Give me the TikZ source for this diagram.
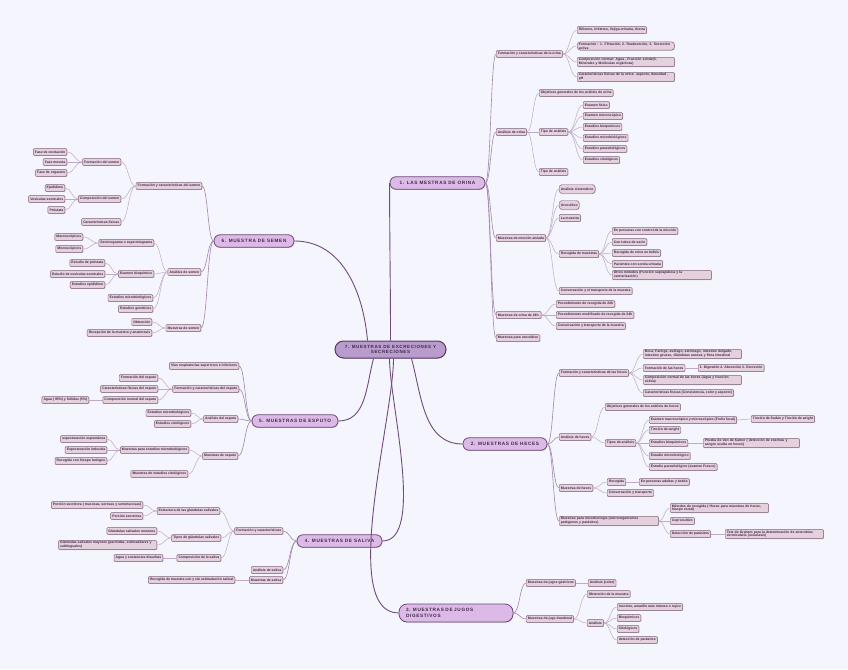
\documentclass[tikz,border=0pt]{standalone}
\usepackage{fontspec}
\setmainfont{Liberation Sans}
\newfontfamily\mainfam[LetterSpace=14]{Liberation Sans}
\usetikzlibrary{shadows,calc}
\definecolor{bgc}{HTML}{F4F5FD}
\definecolor{leaff}{HTML}{E5D0DE}
\definecolor{leafb}{HTML}{7E6079}
\definecolor{mainf}{HTML}{DCB9E6}
\definecolor{mainb}{HTML}{6B4878}
\definecolor{cenf}{HTML}{B99CCD}
\definecolor{cenb}{HTML}{573B66}
\definecolor{ctext}{HTML}{3E2A48}
\definecolor{mline}{HTML}{6E4C7C}
\definecolor{lonec}{HTML}{A286AD}
\definecolor{ltwoc}{HTML}{BFA9C8}
\tikzset{
  shad/.style={drop shadow={shadow xshift=0.5pt,shadow yshift=-0.6pt,opacity=0.35,fill=black!60}},
  leaf/.style={draw=leafb, line width=0.45pt, fill=leaff, rounded corners=0.8pt,
    font=\bfseries\fontsize{3.4}{3.8}\selectfont, text=ctext, inner xsep=1.6pt,
    inner ysep=0.9pt, minimum height=6.6pt, shad},
  lw/.style={leaf, anchor=west},
  le/.style={leaf, anchor=east},
  tw/.style={text width=#1, align=left},
  mainnode/.style={draw=mainb, line width=0.8pt, fill=mainf, rounded corners=6pt,
    minimum height=12.5pt, font=\mainfam\bfseries\fontsize{4.7}{5.6}\selectfont, text=ctext, shad},
  cc/.style={to path={let \p1=(\tikztostart), \p2=(\tikztotarget) in
    .. controls (\x1/2+\x2/2,\y1) and (\x1/2+\x2/2,\y2) .. (\tikztotarget) \tikztonodes}},
  lone/.style={draw=lonec, line width=0.6pt},
  ltwo/.style={draw=ltwoc, line width=0.5pt},
  mlink/.style={draw=mline, line width=0.9pt},
}
\begin{document}
\begin{tikzpicture}[x=1pt,y=1pt]
\fill[bgc] (0,0) rectangle (848,-669);
\useasboundingbox (0,0) rectangle (848,-669);

% ---------- center ----------
\node[draw=cenb, line width=1pt, fill=cenf, rounded corners=8.5pt, minimum width=111pt,
  minimum height=17pt, align=center, text=ctext, shad,
  font=\mainfam\bfseries\fontsize{4.5}{5.6}\selectfont, inner ysep=1pt] (c) at (390.5,-349.5)
  {7. MUESTRAS DE EXCRECIONES Y\\SECRECIONES};

% ---------- main nodes ----------
\node[mainnode, minimum width=95pt] (b1) at (437.5,-183) {1. LAS MESTRAS DE ORINA};
\node[mainnode, minimum width=84pt] (b2) at (505,-444) {2. MUESTRAS DE HECES};
\node[mainnode, minimum width=114pt, minimum height=18pt, rounded corners=8pt, align=left,
  text width=100pt] (b3) at (456,-613) {3. MUESTRAS DE JUGOS\\DIGESTIVOS};
\node[mainnode, minimum width=85pt] (b4) at (339.5,-541) {4. MUESTRAS DE SALIVA};
\node[mainnode, minimum width=86pt] (b5) at (295,-421) {5. MUESTRAS DE ESPUTO};
\node[mainnode, minimum width=80pt] (b6) at (254,-241) {6. MUESTRA DE SEMEN};

% ---------- branch 1 ----------
\node[lw] (o1) at (496,-54) {Formación y características de la orina};
\node[lw] (o11) at (577,-30) {Riñones, Uréteres, Vejiga urinaria, Uretra};
\node[lw, tw=94pt, rounded corners=3pt] (o12) at (577,-46) {Formación : 1. Filtración, 2. Reabsorción, 3. Secreción\\activa};
\node[lw, tw=94pt] (o13) at (577,-62) {Composición normal: Agua , Fracción sólida(S.\\Minerales y Moléculas orgánicas)};
\node[lw, tw=94pt] (o14) at (577,-77) {Características físicas de la orina: aspecto, densidad ,\\pH};
\node[lw] (o2) at (496,-132) {Análisis de orina};
\node[lw] (o21) at (539,-93) {Objetivos generales de los análisis de orina};
\node[lw] (o22) at (539,-132) {Tipo de análisis};
\node[lw] (o221) at (583,-105) {Examen físico};
\node[lw] (o222) at (583,-116) {Examen microscópico};
\node[lw] (o223) at (583,-127) {Estudios bioquímicos};
\node[lw] (o224) at (583,-138) {Estudios microbiológicos};
\node[lw] (o225) at (583,-149) {Estudios parasitológicos};
\node[lw] (o226) at (583,-160) {Estudios citológicos};
\node[lw] (o23) at (539,-172) {Tipo de análisis};
\node[lw] (o3) at (496,-238) {Muestras de micción aislada};
\node[lw, minimum height=9pt, rounded corners=3pt] (o31) at (559,-189) {Análisis sistemático};
\node[lw, minimum height=9pt, rounded corners=3pt] (o32) at (559,-205) {Urocultivo};
\node[lw] (o33) at (559,-218) {La muestra};
\node[lw] (o34) at (559,-254) {Recogida de muestras};
\node[lw] (o341) at (612,-231) {En personas con control de la micción};
\node[lw] (o342) at (612,-242) {Con tubos de vacío};
\node[lw] (o343) at (612,-253) {Recogida de orina en bebés};
\node[lw] (o344) at (612,-264) {Pacientes con sonda urinaria};
\node[lw, tw=96pt] (o345) at (612,-275) {Otros métodos (Punción suprapúbica y la\\cateterización)};
\node[lw] (o35) at (559,-291) {Conservación y el transporte de la muestra};
\node[lw] (o4) at (496,-315) {Muestras de orina de 24h.};
\node[lw] (o41) at (556,-304) {Procedimiento de recogida de 24h};
\node[lw] (o42) at (556,-315) {Procedimiento modificado de recogida de 24h};
\node[lw] (o43) at (556,-326) {Conservación y transporte de la muestra};
\node[lw] (o5) at (496,-338) {Muestras para urocultivo};

% ---------- branch 2 ----------
\node[lw] (h1) at (559,-373) {Formación y características de las heces};
\node[lw, tw=95pt] (h11) at (643,-354) {Boca, Faringe, esófago, estómago, intestino delgado,\\intestino grueso, Glándulas anexas y flora intestinal};
\node[lw] (h12) at (643,-368) {Formación de las heces};
\node[lw] (h121) at (698,-368) {1. Digestión 2. Absorción 3. Excreción};
\node[lw, tw=95pt] (h13) at (643,-380) {Composición normal de las heces (Agua y fracción\\sólida)};
\node[lw] (h14) at (643,-393) {Características físicas (Consistencia, color y aspecto)};
\node[lw] (h2) at (559,-437) {Análisis de heces};
\node[lw] (h21) at (605,-407) {Objetivos generales de los análisis de heces};
\node[lw] (h22) at (605,-443) {Tipos de análisis};
\node[lw] (h221) at (649,-420) {Examen macroscópico y microscópico (Frotis fecal)};
\node[lw] (h2211) at (751,-419) {Tinción de Sudán y Tinción de wright};
\node[lw] (h222) at (649,-430) {Tinción de wright};
\node[lw] (h223) at (649,-443) {Estudios bioquímicos};
\node[lw, tw=93pt] (h2231) at (703,-443) {Prueba de Van de Kamer ( detección de enzimas y\\sangre oculta en heces)};
\node[lw] (h224) at (649,-456) {Estudio microbiológico};
\node[lw] (h225) at (649,-467) {Estudio parasitológico (examen Fresco)};
\node[lw] (h3) at (559,-488) {Muestras de heces};
\node[lw] (h31) at (607,-482) {Recogida};
\node[lw] (h311) at (639,-482) {En personas adultas y bebés};
\node[lw] (h32) at (607,-493) {Conservación y transporte};
\node[lw, tw=96pt] (h4) at (559,-521) {Muestras para microbiología (microorganismos\\patógenos y parásitos)};
\node[lw, tw=95pt] (h41) at (670,-508) {Métodos de recogida ( Heces para muestras de heces,\\hisopo rectal)};
\node[lw] (h42) at (670,-521) {Coprocultivo};
\node[lw] (h43) at (670,-534) {Detección de parásitos};
\node[lw, tw=95pt] (h431) at (725,-534) {Test de Graham para la determinación de enterobius\\vermicularis (oxiuriasis)};

% ---------- branch 3 ----------
\node[lw] (j1) at (526,-583) {Muestras de jugos gástricos};
\node[lw] (j11) at (588,-583) {Análisis (color)};
\node[lw] (j2) at (526,-619) {Muestras de jugo duodenal};
\node[lw] (j21) at (587,-594) {Obtención de la muestra};
\node[lw] (j22) at (587,-623) {Análisis};
\node[lw] (j221) at (617,-607) {Incoloro, amarillo más intenso o rojizo};
\node[lw] (j222) at (617,-618) {Bioquímicos};
\node[lw] (j223) at (617,-629) {Citológicos};
\node[lw] (j224) at (617,-640) {detección de parásitos};

% ---------- branch 4 ----------
\node[le] (s1) at (283,-531) {Formación y características};
\node[le] (s11) at (220,-511) {Estructura de las glándulas salivales};
\node[le] (s111) at (143,-505) {Porción secretora ( mucosas, serosas y seromucosas)};
\node[le] (s112) at (143,-516) {Porción excretora};
\node[le] (s12) at (221,-538) {Tipos de glándulas salivales};
\node[le] (s121) at (157,-531) {Glándulas salivales menores};
\node[le, tw=95pt] (s122) at (157,-545) {Glándulas salivales mayores (parótidas, submaxilares y\\sublinguales)};
\node[le] (s13) at (221,-558) {Composición de la saliva};
\node[le] (s131) at (163,-558) {Agua y sustancias disueltas};
\node[le] (s2) at (283,-570) {Análisis de saliva};
\node[le] (s3) at (283,-580) {Muestras de saliva};
\node[le] (s31) at (235,-580) {Recogida de muestra con y sin estimulación salival};

% ---------- branch 5 ----------
\node[le] (e1) at (239,-366) {Vías respiratorias superiores e inferiores};
\node[le] (e2) at (239,-389) {Formación y características del esputo};
\node[le] (e21) at (158,-378) {Formación del esputo};
\node[le] (e22) at (158,-389) {Características físicas del esputo};
\node[le] (e23) at (158,-400) {Composición normal del esputo};
\node[le] (e231) at (89,-400) {Agua ( 95\%) y Sólidos (5\%)};
\node[le] (e3) at (238,-419) {Análisis del esputo};
\node[le] (e31) at (191,-413) {Estudios microbiológicos};
\node[le] (e32) at (191,-424) {Estudios citológicos};
\node[le] (e4) at (238,-456) {Muestras de esputo};
\node[le] (e41) at (189,-450) {Muestras para estudios microbiológicos};
\node[le] (e411) at (107,-439) {expectoración espontánea};
\node[le] (e412) at (107,-450) {Expectoración inducida};
\node[le] (e413) at (107,-461) {Recogida con hisopo laríngeo};
\node[le] (e42) at (188,-474) {Muestras de estudios citológicos};

% ---------- branch 6 ----------
\node[le] (m1) at (202,-186) {Formación y características del semen};
\node[le] (m11) at (121,-162) {Formación del semen};
\node[le] (m111) at (67,-152) {Fase de excitación};
\node[le] (m112) at (67,-162) {Fase meseta};
\node[le] (m113) at (67,-173) {Fase de orgasmo};
\node[le] (m12) at (121,-199) {Composición del semen};
\node[le] (m121) at (65,-188) {Epidídimo};
\node[le] (m122) at (65,-199) {Vesículas seminales};
\node[le] (m123) at (65,-210) {Próstata};
\node[le] (m13) at (121,-222) {Características físicas};
\node[le] (m2) at (201,-272) {Análisis de semen};
\node[le] (m21) at (154,-243) {Seminograma  o espermiograma};
\node[le] (m211) at (83,-237) {Macroscópicos};
\node[le] (m212) at (83,-249) {Microscópicos};
\node[le] (m22) at (154,-274) {Examen bioquímico};
\node[le] (m221) at (105,-263) {Estudio de próstata};
\node[le] (m222) at (105,-274) {Estudio de vesículas seminales};
\node[le] (m223) at (105,-285) {Estudios epidídimo};
\node[le] (m23) at (153,-298) {Estudios microbiológicos};
\node[le] (m24) at (153,-309) {Estudios genéticos};
\node[le] (m3) at (201,-328) {Muestras de semen};
\node[le] (m31) at (152,-322) {Obtención};
\node[le] (m32) at (152,-333) {Recepción de la muestra y anamnesis};

% ---------- connectors ----------
% center to main
\draw[mlink] (c.north) to[out=90,in=-90] (b1.west);
\draw[mlink] ([xshift=-23pt]c.north) to[out=95,in=0] (b6.east);
\draw[mlink] ([xshift=-17pt]c.south) to[out=-105,in=0] (b5.east);
\draw[mlink] ([xshift=-1pt]c.south) to[out=-90,in=0,looseness=0.6] (b4.east);
\draw[mlink] ([xshift=3pt]c.south) to[out=-90,in=180,looseness=0.6] (b3.west);
\draw[mlink] ([xshift=21pt]c.south) to[out=-75,in=180] (b2.west);

% right side: level 1
\foreach \cn in {o1,o2,o3,o4,o5} \draw[lone] (b1.east) to[cc] (\cn.west);
\foreach \cn in {h1,h2,h3,h4} \draw[lone] (b2.east) to[cc] (\cn.west);
\foreach \cn in {j1,j2} \draw[lone] (b3.east) to[cc] (\cn.west);
% right side deeper
\foreach \pn/\cn in {o1/o11,o1/o12,o1/o13,o1/o14,o2/o21,o2/o22,o2/o23,
  o22/o221,o22/o222,o22/o223,o22/o224,o22/o225,o22/o226,
  o3/o31,o3/o32,o3/o33,o3/o34,o3/o35,
  o34/o341,o34/o342,o34/o343,o34/o344,o34/o345,
  o4/o41,o4/o42,o4/o43,
  h1/h11,h1/h12,h1/h13,h1/h14,h12/h121,
  h2/h21,h2/h22,h22/h221,h22/h222,h22/h223,h22/h224,h22/h225,h221/h2211,h223/h2231,
  h3/h31,h3/h32,h31/h311,
  h4/h41,h4/h42,h4/h43,h43/h431,
  j1/j11,j2/j21,j2/j22,j22/j221,j22/j222,j22/j223,j22/j224}
  \draw[ltwo] (\pn.east) to[cc] (\cn.west);

% left side: level 1
\foreach \cn in {s1,s2,s3} \draw[lone] (b4.west) to[cc] (\cn.east);
\foreach \cn in {e1,e2,e3,e4} \draw[lone] (b5.west) to[cc] (\cn.east);
\foreach \cn in {m1,m2,m3} \draw[lone] (b6.west) to[cc] (\cn.east);
% left side deeper
\foreach \pn/\cn in {s1/s11,s1/s12,s1/s13,s11/s111,s11/s112,s12/s121,s12/s122,s13/s131,s3/s31,
  e2/e21,e2/e22,e2/e23,e23/e231,e3/e31,e3/e32,e4/e41,e4/e42,e41/e411,e41/e412,e41/e413,
  m1/m11,m1/m12,m1/m13,m11/m111,m11/m112,m11/m113,m12/m121,m12/m122,m12/m123,
  m2/m21,m2/m22,m2/m23,m2/m24,m21/m211,m21/m212,m22/m221,m22/m222,m22/m223,
  m3/m31,m3/m32}
  \draw[ltwo] (\pn.west) to[cc] (\cn.east);
\end{tikzpicture}
\end{document}
